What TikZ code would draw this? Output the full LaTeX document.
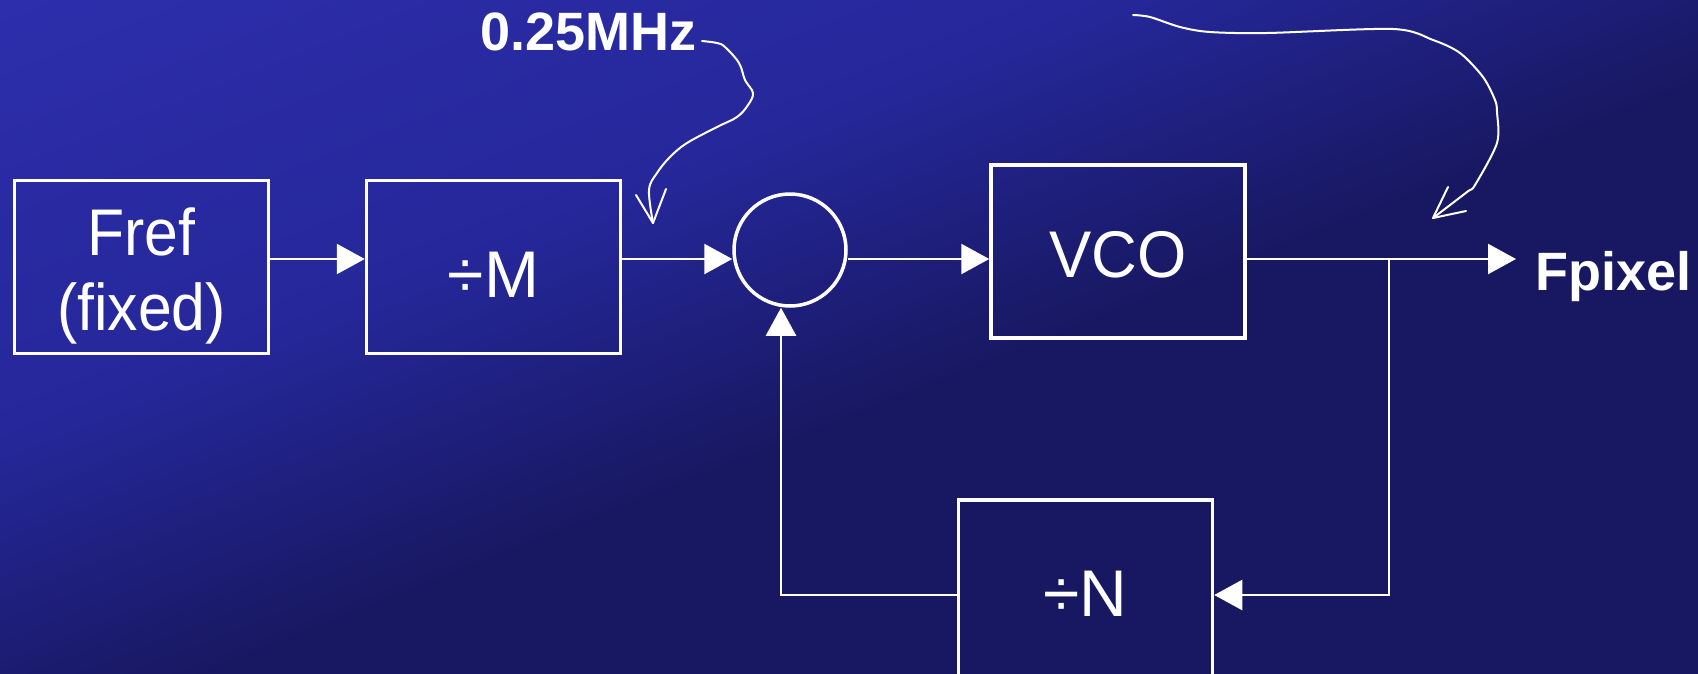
\documentclass[tikz,border=0pt]{standalone}
\usepackage{fontspec}
\setmainfont{Liberation Sans}
\newfontfamily\narrowA[FakeStretch=0.92]{Liberation Sans}
\newfontfamily\narrowB[FakeStretch=0.96]{Liberation Sans}
\usetikzlibrary{arrows.meta}
\definecolor{bgtop}{RGB}{45,46,172}
\definecolor{bgmid}{RGB}{37,39,153}
\definecolor{bgdark}{RGB}{24,24,98}
\pgfdeclareverticalshading{bgshade}{100bp}{color(0bp)=(bgdark); color(25bp)=(bgdark); color(45bp)=(bgmid); color(75bp)=(bgtop); color(100bp)=(bgtop)}
\begin{document}
\begin{tikzpicture}[x=1pt,y=-1pt,
  box/.style={draw=white, line width=3.5pt, minimum width=254pt, minimum height=173pt, inner sep=0pt, text=white, font=\fontsize{66}{75}\selectfont},
  conn/.style={white, line width=2.5pt, -{Triangle[length=28pt,width=30pt]}},
  hand/.style={white, line width=2pt, line cap=round, line join=round},
  lbl/.style={text=white, font=\bfseries\fontsize{54}{60}\selectfont, inner sep=0pt}]

\useasboundingbox (0,0) rectangle (1698,673);
\fill[bgdark] (-20,-20) rectangle (1718,693);
\begin{scope}
\clip (-5,-5) rectangle (1703,678);
\begin{scope}[transform canvas={rotate around={21.6:(0,0)}}]
\shade[shading=bgshade] (-2500,-10) rectangle (3500,700);
\end{scope}
\end{scope}

\begin{scope}
\clip (0,0) rectangle (1698,673);
\coordinate (ml) at (0,259);
\node[box, text height=126pt, text depth=0pt, font=\narrowA\fontsize{66}{75}\selectfont] (fref) at (141.5,267) {\begin{tabular}[b]{@{}c@{}}Fref\\(fixed)\end{tabular}};
\node[box, text height=60pt, text depth=0pt] (divM) at (493.5,267) {÷M};
\node[draw=white, line width=3.5pt, circle, minimum size=112pt, inner sep=0pt] (pd) at (790,250) {};
\node[box, text height=51pt, text depth=0pt, font=\narrowB\fontsize{66}{75}\selectfont] (vco) at (1118,251.5) {VCO};
\node[box, minimum height=194pt, text height=38pt, text depth=0pt] (divN) at (1085.5,597) {÷N};

\coordinate (out) at (1516,259);
\coordinate (br) at (1389,259);
\coordinate (fr) at (1389,595);
\coordinate (fb) at (781,595);

\draw[conn] (fref.east |- ml) -- (divM.west |- ml);
\draw[conn] (divM.east |- ml) -- (pd.west |- ml);
\draw[conn] (pd.east |- ml) -- (vco.west |- ml);
\draw[conn] (vco.east |- ml) -- (out);
\draw[conn] (br) -- (fr) -- (divN.east |- fr);
\draw[conn] (divN.west |- fb) -- (fb) -- (pd.south -| fb);

\node[lbl, anchor=base west] (mhz) at (480,50) {0.25MHz};
\node[lbl, anchor=base west] (fpx) at (1535,290) {Fpixel};

\draw[hand] plot[smooth, tension=0.6] coordinates {(702,41) (717,43) (725,47) (739,63) (745,80) (753,93) (748,105) (737,117) (717,127) (687,143) (670,157) (657,173) (649,190) (653,223)};
\draw[hand] (636,195) -- (653,223) -- (666,189);

\draw[hand] plot[smooth, tension=0.5] coordinates {(1133,15) (1150,17) (1180,27) (1210,32) (1267,33) (1393,29) (1433,40) (1460,53) (1483,77) (1495,100) (1497,112) (1497,143) (1475,185) (1467,192) (1433,218)};
\draw[hand] (1448,187) -- (1433,218) -- (1466,211);
\end{scope}
\end{tikzpicture}
\end{document}
